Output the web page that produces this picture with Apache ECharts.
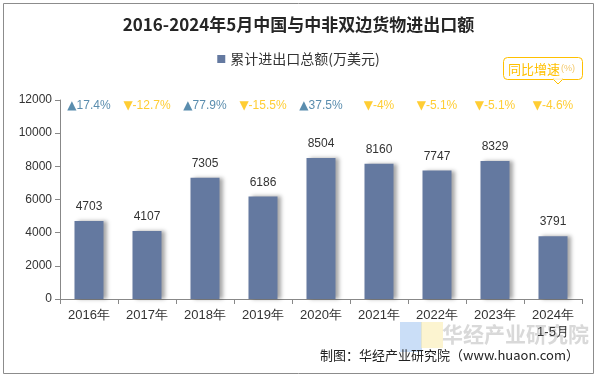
<!DOCTYPE html>
<html><head><meta charset="utf-8">
<script src="https://cdn.jsdelivr.net/npm/echarts@6/dist/echarts.min.js"></script>
<style>html,body{margin:0;padding:0;background:#fff}#c{width:597px;height:377px}</style>
</head><body><div id="c"></div>
<script>
const categories = ['2016年','2017年','2018年','2019年','2020年','2021年','2022年','2023年','2024年\n1-5月'];
const totals = [4703, 4107, 7305, 6186, 8504, 8160, 7747, 8329, 3791];
const growth = [17.4, -12.7, 77.9, -15.5, 37.5, -4, -5.1, -5.1, -4.6];
const yTicks = [0, 2000, 4000, 6000, 8000, 10000, 12000];

const CJK = '"Noto Sans CJK SC", "Liberation Sans", sans-serif';
const NUM = '"Liberation Sans", Arial, sans-serif';
const TRI = '"DejaVu Sans", sans-serif';
const UP = '#31709a', DOWN = '#ffc000';
const growthRow = 11660;

const chart = echarts.init(document.getElementById('c'), null, {renderer: 'canvas'});
chart.setOption({
  animation: false,
  backgroundColor: '#fff',
  title: {
    text: '2016-2024年5月中国与中非双边货物进出口额',
    left: 'center', top: 11,
    textStyle: {fontFamily: CJK, fontSize: 17, fontWeight: 'bold', color: '#262626'}
  },
  legend: {
    data: ['累计进出口总额(万美元)'],
    top: 47, left: 'center',
    icon: 'rect', itemWidth: 8, itemHeight: 8, itemGap: 4,
    textStyle: {fontFamily: CJK, fontSize: 14, color: '#333'}
  },
  grid: {left: 60, right: 15, top: 100, bottom: 78, containLabel: false},
  xAxis: {
    type: 'category', data: categories,
    axisLine: {lineStyle: {color: '#888'}},
    axisTick: {show: true, length: 5, lineStyle: {color: '#888'}},
    axisLabel: {fontFamily: NUM, fontSize: 13, color: '#333', margin: 8, lineHeight: 17}
  },
  yAxis: {
    type: 'value', min: 0, max: 12000, interval: 2000,
    axisLine: {show: true, lineStyle: {color: '#888'}},
    axisTick: {show: true, length: 5, lineStyle: {color: '#888'}},
    splitLine: {show: false},
    axisLabel: {fontFamily: NUM, fontSize: 12, color: '#333', margin: 8,
      formatter: v => yTicks.includes(v) ? String(v) : ''}
  },
  series: [
    {
      name: '累计进出口总额(万美元)', type: 'bar', data: totals, barWidth: 29,
      itemStyle: {color: '#6479a0', shadowColor: 'rgba(0,0,0,0.35)', shadowBlur: 4, shadowOffsetX: 3, shadowOffsetY: 0},
      label: {show: true, position: 'top', distance: 8, fontFamily: NUM, fontSize: 12, color: '#333'}
    },
    {
      name: 'growth', type: 'scatter', symbol: 'rect', symbolSize: 2, silent: true,
      itemStyle: {color: 'rgba(255,255,255,0)'},
      label: {
        show: true, position: 'inside',
        formatter: p => {
          const g = growth[p.dataIndex];
          return g >= 0 ? '{u|▲}{ut|' + g + '%}' : '{d|▼}{dt|' + g + '%}';
        },
        rich: {
          u: {color: UP, fontSize: 12, fontFamily: TRI},
          d: {color: DOWN, fontSize: 12, fontFamily: TRI},
          ut: {color: UP, fontSize: 12, fontFamily: NUM},
          dt: {color: DOWN, fontSize: 12, fontFamily: NUM}
        }
      },
      labelLayout: {hideOverlap: false},
      data: growth.map(() => growthRow)
    }
  ],
  graphic: [
    {type: 'rect', shape: {x: 3.5, y: 3.5, width: 590, height: 370}, style: {fill: 'none', stroke: '#8c8c8c', lineWidth: 1}, z: 100},
    {type: 'rect', shape: {x: 503.5, y: 57.5, width: 79, height: 22, r: 4}, style: {fill: '#fff', stroke: '#ffc000', lineWidth: 1}},
    {type: 'polygon', shape: {points: [[553, 79], [563, 79], [558, 84]]}, style: {fill: '#fff', stroke: '#ffc000', lineWidth: 1}},
    {type: 'rect', shape: {x: 553.5, y: 78.2, width: 9, height: 1.5}, style: {fill: '#fff'}},
    {type: 'text', x: 508, y: 69, style: {text: '同比增速', fill: '#ffc000', fontFamily: CJK, fontSize: 13, verticalAlign: 'middle'}},
    {type: 'text', x: 561, y: 69, style: {text: '(%)', fill: '#f3c86a', fontFamily: NUM, fontSize: 9, verticalAlign: 'middle'}},
    {type: 'rect', shape: {x: 400, y: 322, width: 22, height: 30}, style: {fill: 'rgba(150,190,240,0.5)'}},
    {type: 'rect', shape: {x: 421, y: 322, width: 22, height: 26}, style: {fill: 'rgba(250,235,170,0.55)'}},
    {type: 'text', x: 442, y: 334, style: {text: '华经产业研究院', fill: 'rgba(180,180,180,0.5)', fontFamily: CJK, fontSize: 21, fontWeight: 'bold', verticalAlign: 'middle'}},
    {type: 'text', right: 18, y: 355, style: {text: '制图：华经产业研究院（www.huaon.com）', fill: '#222', fontFamily: CJK, fontSize: 13, verticalAlign: 'middle'}}
  ]
});
</script></body></html>
